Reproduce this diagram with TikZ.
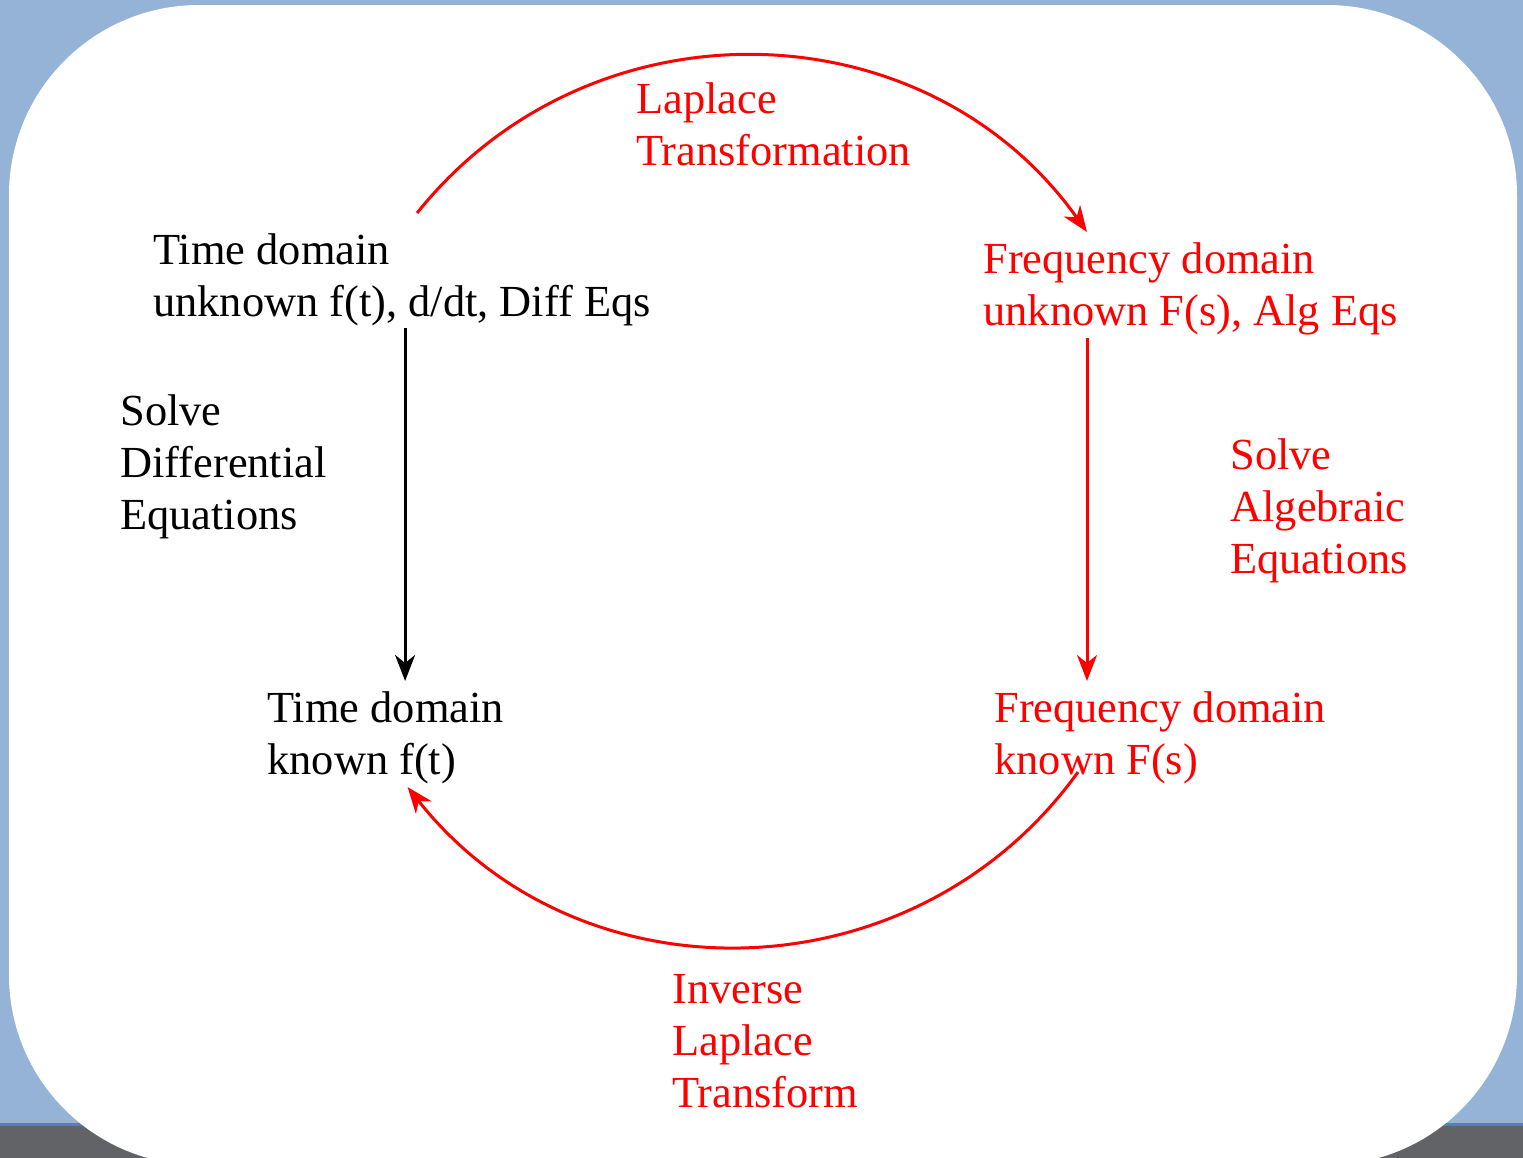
\documentclass[tikz,border=0pt]{standalone}
\usepackage{fontspec}
\setmainfont{Liberation Serif}
\usetikzlibrary{arrows.meta}

\definecolor{slideblue}{RGB}{149,179,215}
\definecolor{barblue}{RGB}{79,129,189}
\definecolor{bargray}{RGB}{98,99,102}

\begin{document}
\begin{tikzpicture}[x=0.5pt,y=-0.5pt,
    txt/.style={align=left, inner sep=0pt, anchor=north west,
      font=\fontsize{22.2}{26}\selectfont},
    flow/.style={line width=1.5pt, -{Stealth[length=13pt,width=10pt,inset=4pt]}},
    redflow/.style={flow, red}]
   \useasboundingbox (0,0) rectangle (1523,1158);
   % slide background
   \fill[slideblue] (0,0) rectangle (1523,1158);
   \fill[bargray] (0,1124) rectangle (1523,1158);
   \fill[barblue] (0,1123) rectangle (1523,1126);
   \fill[white, rounded corners=95pt] (9,5) rectangle (1517,1165);

   \node[txt] (tdu) at (153,233) {Time domain\\unknown f(t), d/dt, Diff Eqs};
   \node[txt, red] (lt) at (636,82) {Laplace\\Transformation};
   \node[txt, red] (fdu) at (983,242) {Frequency domain\\unknown F(s), Alg Eqs};
   \node[txt] (sde) at (120,394) {Solve\\Differential\\Equations};
   \node[txt, red] (sae) at (1230,438) {Solve\\Algebraic\\Equations};
   \node[txt] (tdk) at (267,691) {Time domain\\known f(t)};
   \node[txt, red] (fdk) at (994,691) {Frequency domain\\known F(s)};
   \node[txt, red] (ilt) at (672,974) {Inverse\\Laplace\\Transform};

   \coordinate (tdstart) at ([xshift=1.5pt,yshift=-1pt]tdu.south);
   \coordinate (tdend) at ([yshift=5pt]tdstart |- tdk.north);
   \coordinate (fdstart) at ([xshift=52pt,yshift=-1.5pt]fdu.south west);
   \coordinate (fdend) at ([yshift=5pt]fdstart |- fdk.north);

   \draw[redflow] ([xshift=7.5pt,yshift=10pt]tdu.north) to[bend left=53, looseness=1.06] ([xshift=52pt,yshift=5pt]fdu.north west);
   \draw[flow] (tdstart) -- (tdend);
   \draw[redflow] (fdstart) -- (fdend);
   \draw[redflow] ([xshift=42pt,yshift=6pt]fdk.south west) to[bend left=53, looseness=1.06] ([xshift=11pt,yshift=-1.5pt]tdk.south);
 \end{tikzpicture}
\end{document}
